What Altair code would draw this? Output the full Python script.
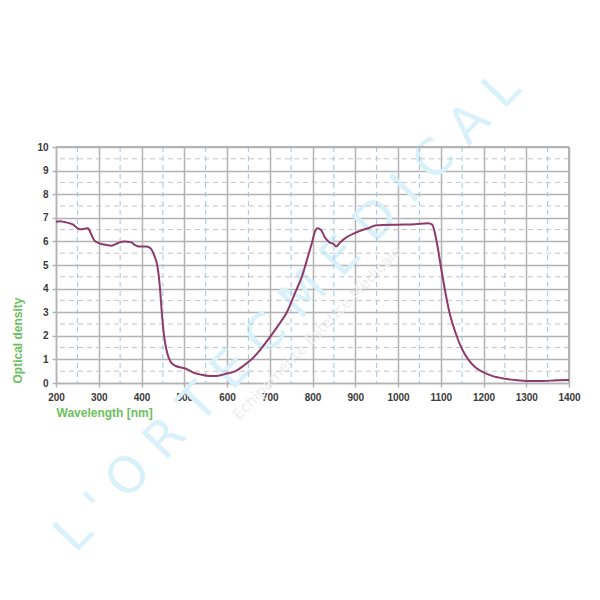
import altair as alt
import pandas as pd

# Optical density curve
wavelength = [200, 210, 220, 240, 250, 255, 265, 275, 280, 290, 300, 320, 330, 345, 360, 375, 385, 395,
              410, 420, 430, 437, 443, 448, 453, 460, 468, 480, 495, 505, 520, 540, 560, 575, 600, 620,
              640, 660, 680, 700, 720, 740, 760, 775, 790, 800, 805, 812, 820, 830, 840, 850, 855, 865,
              880, 900, 930, 950, 1000, 1040, 1070, 1080, 1090, 1100, 1110, 1120, 1135, 1150, 1165,
              1180, 1200, 1220, 1250, 1280, 1300, 1340, 1370, 1400]
od = [6.83, 6.85, 6.82, 6.71, 6.56, 6.52, 6.53, 6.56, 6.40, 6.03, 5.93, 5.84, 5.82, 5.93, 6.00, 5.97, 5.84, 5.78,
      5.78, 5.73, 5.40, 4.97, 4.07, 2.87, 1.96, 1.28, 0.90, 0.72, 0.65, 0.60, 0.45, 0.35, 0.30, 0.30, 0.40, 0.50,
      0.75, 1.05, 1.46, 1.93, 2.44, 3.00, 3.85, 4.50, 5.40, 6.03, 6.38, 6.56, 6.48, 6.14, 5.96, 5.88, 5.78, 5.96,
      6.18, 6.36, 6.56, 6.68, 6.71, 6.73, 6.77, 6.71, 6.03, 4.97, 3.92, 3.02, 2.11, 1.43, 0.98,
      0.68, 0.45, 0.30, 0.18, 0.12, 0.09, 0.08, 0.12, 0.13]

x_major = list(range(200, 1401, 100))
y_major = list(range(0, 11))
x_minor = list(range(250, 1400, 100))
y_minor = [v + 0.5 for v in range(0, 10)]

curve = pd.DataFrame({"wl": wavelength, "od": od})
xminor_df = pd.DataFrame({"wl": x_minor})
yminor_df = pd.DataFrame({"od": y_minor})

W, H = 513, 236
FONT = "Liberation Sans"
GREEN = "#6cc05e"
GRID = "#b3b3b3"

xscale = alt.Scale(domain=[200, 1400], nice=False, zero=False)
yscale = alt.Scale(domain=[0, 10], nice=False)

xaxis = alt.Axis(values=x_major, format="d", title="Wavelength [nm]", titleColor=GREEN, titleFont=FONT,
                 titleFontSize=12, titleFontWeight="bold", titleAnchor="start", titleAlign="left",
                 titlePadding=5, labelFont=FONT, labelFontSize=10, labelFontWeight="bold",
                 labelColor="#3a3a3a", labelPadding=5, tickColor=GRID, tickSize=4, tickWidth=1.5,
                 domainColor=GRID, domainWidth=1.5, grid=True, gridColor=GRID, gridWidth=1.5,
                 labelFlush=False, labelOverlap=False)
yaxis = alt.Axis(values=y_major, format="d", title="Optical density", titleColor=GREEN, titleFont=FONT,
                 titleFontSize=12, titleFontWeight="bold", titleAnchor="start",
                 titlePadding=12, labelFont=FONT, labelFontSize=10, labelFontWeight="bold",
                 labelColor="#3a3a3a", labelPadding=4, tickColor=GRID, tickSize=4, tickWidth=1.5,
                 domainColor=GRID, domainWidth=1.5, grid=True, gridColor=GRID, gridWidth=1.5,
                 labelFlush=False, labelOverlap=False)

X = alt.X("wl:Q", scale=xscale, axis=xaxis)
Y = alt.Y("od:Q", scale=yscale, axis=yaxis)

base_grid = alt.Chart(curve).mark_line(opacity=0).encode(x=X, y=Y)

vminor = alt.Chart(xminor_df).mark_rule(color="#9cc6df", strokeDash=[5, 4], strokeWidth=1).encode(x=X)
hminor = alt.Chart(yminor_df).mark_rule(color="#c4c4c4", strokeDash=[5, 4], strokeWidth=1).encode(y=Y)

top_border = alt.Chart(curve).mark_rule(color=GRID, strokeWidth=1.5).encode(
    x=alt.value(0), x2=alt.value(W), y=alt.value(0)
)
right_border = alt.Chart(curve).mark_rule(color=GRID, strokeWidth=1.5).encode(
    x=alt.value(W), y=alt.value(0), y2=alt.value(H)
)

watermark = alt.Chart(pd.DataFrame({"t": ["L ' O R T E C   M E D I C A L"]})).mark_text(
    font="DejaVu Sans", fontSize=50, fontWeight="normal", color="#d9f1fb", angle=314,
    align="center", baseline="middle"
).encode(text="t:N", x=alt.value(232), y=alt.value(165))

watermark2 = alt.Chart(pd.DataFrame({"t": ["Echipamente Estetice Medicale"]})).mark_text(
    font="DejaVu Sans", fontSize=15, color="#ededed", angle=314,
    align="center", baseline="middle"
).encode(text="t:N", x=alt.value(261), y=alt.value(186))

line = alt.Chart(curve).mark_line(color="#8d3a6c", strokeWidth=2, interpolate="monotone").encode(x=X, y=Y)

chart = alt.layer(base_grid, watermark, watermark2, vminor, hminor, top_border, right_border, line).properties(
    width=W, height=H,
    autosize=alt.AutoSizeParams(type="none"),
    padding={"left": 56, "top": 147, "right": 31, "bottom": 217},
    background="white",
).configure_view(stroke=None)

chart.save("out.html", embed_options={"renderer": "svg", "actions": False})
